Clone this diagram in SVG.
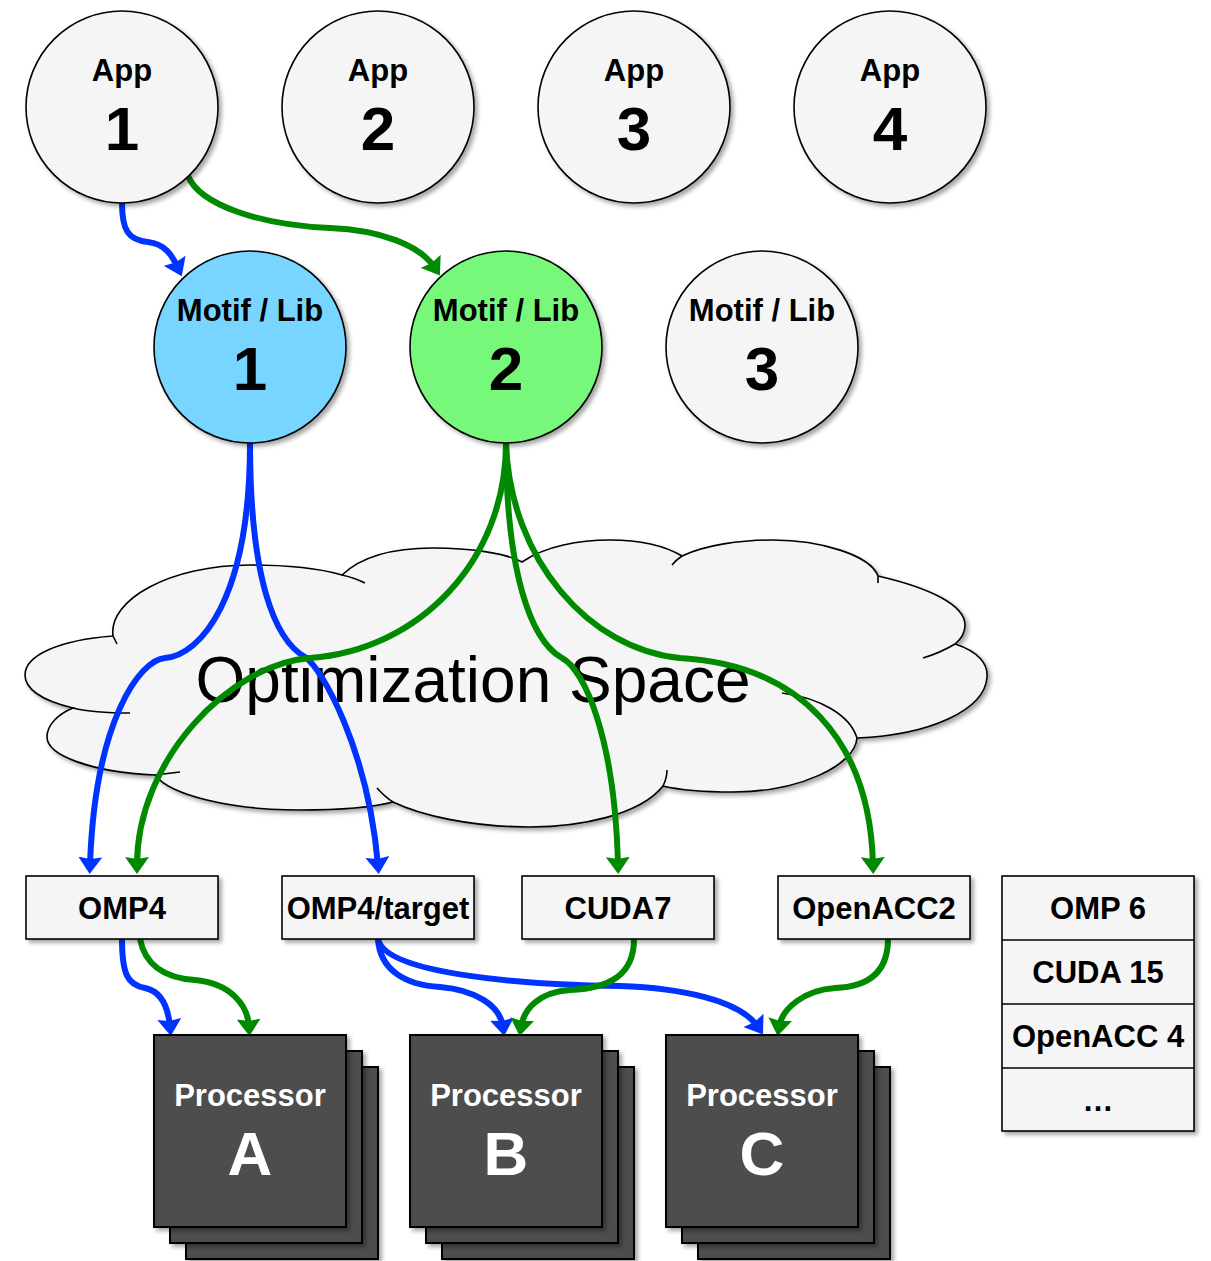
<svg xmlns="http://www.w3.org/2000/svg" width="1211" height="1261" viewBox="0 0 1211 1261">
<style>
.lt{fill:#f5f5f5;stroke:#000;stroke-width:1.6}
.pr{fill:#4d4d4d;stroke:#000;stroke-width:2}
.t{font-family:"Liberation Sans",Arial,Helvetica,sans-serif;font-weight:bold;text-anchor:middle;fill:#000}
.s{font-size:31px}
.b{font-size:62px}
.w{fill:#fff}
.eb{fill:none;stroke:#0033ff;stroke-width:6}
.eg{fill:none;stroke:#008a00;stroke-width:6}
</style>
<defs>
<filter id="sh" x="-10%" y="-10%" width="130%" height="130%">
<feDropShadow dx="3" dy="3" stdDeviation="2" flood-color="#000" flood-opacity="0.35"/>
</filter>
<marker id="ab" markerUnits="userSpaceOnUse" markerWidth="18" markerHeight="24" refX="8" refY="12" orient="auto" viewBox="0 0 18 24">
<path d="M0,0 L17,12 L0,24 L2,12 z" fill="#0033ff"/>
</marker>
<marker id="ag" markerUnits="userSpaceOnUse" markerWidth="18" markerHeight="24" refX="8" refY="12" orient="auto" viewBox="0 0 18 24">
<path d="M0,0 L17,12 L0,24 L2,12 z" fill="#008a00"/>
</marker>
</defs>

<g id="cloud">
<path class="lt" filter="url(#sh)" d="M113,636 C108,600 170,565 250,565 C295,565 325,570 342,575 C365,553 400,548 433,548 C470,548 505,553 522,562 C545,546 580,540 610,540 C640,540 665,546 682,556 C705,545 740,540 773,540 C820,540 870,555 878,576 C930,588 965,605 965,625 C965,633 960,640 955,644 C980,652 988,665 987,677 C985,710 930,735 857,738 C855,765 800,792 733,792 C705,792 680,790 663,786 C640,815 580,827 530,827 C470,827 420,815 393,802 C370,808 340,810 300,810 C230,810 170,795 155,775 C90,772 47,755 47,737 C47,725 58,714 73,708 C40,700 25,688 25,675 C25,655 60,640 113,636 Z"/>
<path fill="none" stroke="#000" stroke-width="1.6" d="M342,575 Q355,578 365,583 M113,636 L117,644 M73,708 C85,711 105,713 130,713 M155,775 L180,772 M393,802 Q385,797 377,788 M663,786 Q667,778 667,770 M857,738 C850,715 820,698 782,693 M955,644 Q940,653 923,658 M878,576 L878,583 M682,556 Q676,560 672,565"/>
<text x="473" y="702" font-family="'Liberation Sans',Arial,Helvetica,sans-serif" font-size="64" text-anchor="middle" fill="#000">Optimization Space</text>
</g>

<g id="connectors">
<path class="eb" marker-end="url(#ab)" d="M122,203 C122,230 128,240 148,242 C165,244 172,255 178,268"/>
<path class="eg" marker-end="url(#ag)" d="M188,176 C200,205 260,225 330,228 C380,230 420,245 435,268"/>
<path class="eb" marker-end="url(#ab)" d="M250,443 C250,600 200,655 165,658 C140,660 95,720 90,865"/>
<path class="eb" marker-end="url(#ab)" d="M250,443 C250,580 275,640 305,657 C322,668 368,750 378,865"/>
<path class="eg" marker-end="url(#ag)" d="M506,443 C506,560 420,650 310,658 C230,664 137,760 137,865"/>
<path class="eg" marker-end="url(#ag)" d="M506,443 C506,570 530,640 562,658 C585,670 615,740 618,865"/>
<path class="eg" marker-end="url(#ag)" d="M506,443 C510,560 590,650 680,658 C800,665 870,740 873,865"/>
<path class="eb" marker-end="url(#ab)" d="M122,939 C122,975 128,985 145,988 C160,991 168,1005 170,1027"/>
<path class="eg" marker-end="url(#ag)" d="M140,939 C145,965 165,978 195,980 C230,983 248,1005 249,1027"/>
<path class="eb" marker-end="url(#ab)" d="M378,939 C380,970 405,985 440,987 C475,990 500,1005 503,1027"/>
<path class="eb" marker-end="url(#ab)" d="M378,939 C385,975 530,985 620,986 C680,988 740,1000 758,1027"/>
<path class="eg" marker-end="url(#ag)" d="M634,939 C634,975 610,988 570,990 C540,992 524,1008 521,1027"/>
<path class="eg" marker-end="url(#ag)" d="M888,939 C888,975 865,987 835,988 C805,990 782,1008 779,1027"/>
</g>

<g id="app1"><circle class="lt" filter="url(#sh)" cx="122" cy="107" r="96"/><text class="t s" x="122" y="81">App</text><text class="t b" x="122" y="150">1</text></g>
<g id="app2"><circle class="lt" filter="url(#sh)" cx="378" cy="107" r="96"/><text class="t s" x="378" y="81">App</text><text class="t b" x="378" y="150">2</text></g>
<g id="app3"><circle class="lt" filter="url(#sh)" cx="634" cy="107" r="96"/><text class="t s" x="634" y="81">App</text><text class="t b" x="634" y="150">3</text></g>
<g id="app4"><circle class="lt" filter="url(#sh)" cx="890" cy="107" r="96"/><text class="t s" x="890" y="81">App</text><text class="t b" x="890" y="150">4</text></g>

<g id="motif1"><circle class="lt" style="fill:#77d5ff" filter="url(#sh)" cx="250" cy="347" r="96"/><text class="t s" x="250" y="321">Motif / Lib</text><text class="t b" x="250" y="390">1</text></g>
<g id="motif2"><circle class="lt" style="fill:#77f87a" filter="url(#sh)" cx="506" cy="347" r="96"/><text class="t s" x="506" y="321">Motif / Lib</text><text class="t b" x="506" y="390">2</text></g>
<g id="motif3"><circle class="lt" filter="url(#sh)" cx="762" cy="347" r="96"/><text class="t s" x="762" y="321">Motif / Lib</text><text class="t b" x="762" y="390">3</text></g>

<g id="omp4"><rect class="lt" filter="url(#sh)" x="26" y="876" width="192" height="63"/><text class="t s" x="122" y="919">OMP4</text></g>
<g id="omp4target"><rect class="lt" filter="url(#sh)" x="282" y="876" width="192" height="63"/><text class="t s" x="378" y="919">OMP4/target</text></g>
<g id="cuda7"><rect class="lt" filter="url(#sh)" x="522" y="876" width="192" height="63"/><text class="t s" x="618" y="919">CUDA7</text></g>
<g id="openacc2"><rect class="lt" filter="url(#sh)" x="778" y="876" width="192" height="63"/><text class="t s" x="874" y="919">OpenACC2</text></g>

<g id="versions">
<rect class="lt" filter="url(#sh)" x="1002" y="876" width="192" height="255"/>
<path fill="none" stroke="#000" stroke-width="1.6" d="M1002,940 H1194 M1002,1004 H1194 M1002,1068 H1194"/>
<text class="t s" x="1098" y="919">OMP 6</text>
<text class="t s" x="1098" y="983">CUDA 15</text>
<text class="t s" x="1098" y="1047">OpenACC 4</text>
<text class="t s" x="1098" y="1111">…</text>
</g>

<g id="procA">
<rect class="pr" filter="url(#sh)" x="186" y="1067" width="192" height="192"/>
<rect class="pr" filter="url(#sh)" x="170" y="1051" width="192" height="192"/>
<rect class="pr" filter="url(#sh)" x="154" y="1035" width="192" height="192"/>
<text class="t s w" x="250" y="1106">Processor</text><text class="t b w" x="250" y="1175">A</text>
</g>
<g id="procB">
<rect class="pr" filter="url(#sh)" x="442" y="1067" width="192" height="192"/>
<rect class="pr" filter="url(#sh)" x="426" y="1051" width="192" height="192"/>
<rect class="pr" filter="url(#sh)" x="410" y="1035" width="192" height="192"/>
<text class="t s w" x="506" y="1106">Processor</text><text class="t b w" x="506" y="1175">B</text>
</g>
<g id="procC">
<rect class="pr" filter="url(#sh)" x="698" y="1067" width="192" height="192"/>
<rect class="pr" filter="url(#sh)" x="682" y="1051" width="192" height="192"/>
<rect class="pr" filter="url(#sh)" x="666" y="1035" width="192" height="192"/>
<text class="t s w" x="762" y="1106">Processor</text><text class="t b w" x="762" y="1175">C</text>
</g>
</svg>
